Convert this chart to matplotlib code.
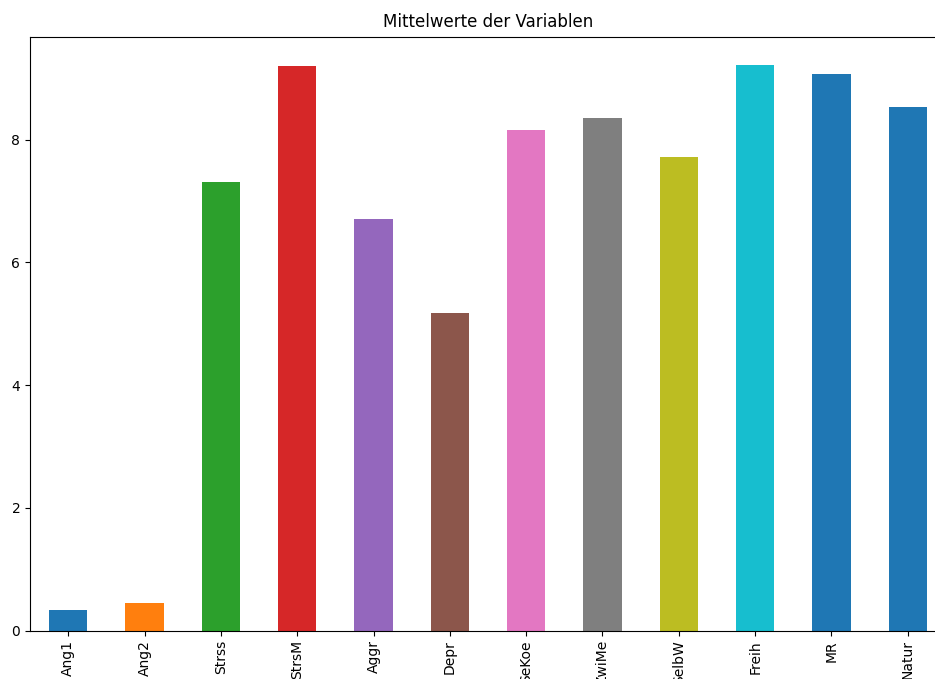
import matplotlib
matplotlib.use("Agg")
import matplotlib.pyplot as plt

# Mittelwerte je Variable
variablen = ['Ang1', 'Ang2', 'Strss', 'StrsM', 'Aggr', 'Depr',
             'SeKoe', 'ZwiMe', 'SelbW', 'Freih', 'MR', 'Natur']
mittelwerte = [0.33, 0.44, 7.30, 9.19, 6.70, 5.18,
               8.15, 8.35, 7.72, 9.21, 9.06, 8.53]
farben = ['#1f77b4', '#ff7f0e', '#2ca02c', '#d62728', '#9467bd', '#8c564b',
          '#e377c2', '#7f7f7f', '#bcbd22', '#17becf', '#1f77b4', '#1f77b4']

fig = plt.figure(figsize=(9.35, 6.79), dpi=100)
# Achse ragt rechts und unten ueber den Bildrand hinaus (Ausschnitt)
ax = fig.add_axes([30 / 935, (679 - 630.5) / 679, 916 / 935, 593.5 / 679])

x = list(range(len(variablen)))
ax.bar(x, mittelwerte, width=0.5, color=farben)
ax.set_xlim(-0.5, len(variablen) - 0.5)
ax.set_xticks(x)
ax.set_xticklabels(variablen, rotation=90)
ax.set_title('Mittelwerte der Variablen', pad=7.5)

fig.savefig('out.png', dpi=100)
